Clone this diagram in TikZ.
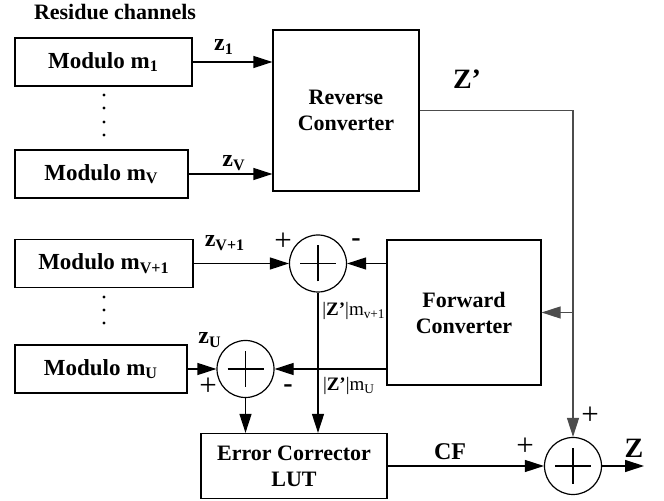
\documentclass[tikz,border=0pt]{standalone}
\usepackage{fontspec}
\setmainfont{Liberation Serif}
\usetikzlibrary{arrows.meta}
\usetikzlibrary{calc,positioning}

\tikzset{
  block/.style={draw, minimum height=24pt, inner sep=2pt, align=center,
    font=\fontsize{11}{13}\selectfont\bfseries},
  modbox/.style={block, font=\fontsize{11.5}{14}\selectfont\bfseries},
  sumnode/.style={draw, circle, minimum size=28.5pt, inner sep=0pt,
    path picture={
      \draw ([xshift=-9pt]path picture bounding box.center) -- ([xshift=9pt]path picture bounding box.center);
      \draw ([yshift=-9pt]path picture bounding box.center) -- ([yshift=9pt]path picture bounding box.center);
    }},
  sig/.style={font=\fontsize{12}{14}\selectfont\bfseries, inner sep=0pt},
  plus/.style={font=\fontsize{15.5}{16}\selectfont, inner sep=0pt},
  minus/.style={font=\fontsize{14}{14}\selectfont\bfseries, inner sep=0pt},
  modlab/.style={font=\fontsize{9.5}{11}\selectfont, inner sep=0pt},
}

\begin{document}
\begin{tikzpicture}[x=0.5pt, y=-0.5pt, >={Triangle[length=9.5pt, width=6pt]}, line width=0.6pt]
    \useasboundingbox (0,0) rectangle (664,501);

    \node[font=\fontsize{11}{13}\selectfont\bfseries] (title) at (115,12) {Residue channels};

    % residue channel blocks
    \node[modbox, minimum width=88.5pt] (m1) at (103.5,62) {Modulo m\textsubscript{1}};
    \node[modbox, minimum width=86.5pt] (mV) at (101.5,174) {Modulo m\textsubscript{V}};
    \node[modbox, minimum width=89pt] (mV1) at (104,263.5) {Modulo m\textsubscript{V+1}};
    \node[modbox, minimum width=86pt] (mU) at (101,369) {Modulo m\textsubscript{U}};

    \foreach \y in {95,108,122,135,297,310,323}
        \fill (104,\y) circle (0.8pt);

    % converters
    \node[block, minimum width=73pt, minimum height=80.5pt] (rev) at (346,110.5) {Reverse\\Converter};
    \node[block, minimum width=77pt, minimum height=72.5pt] (fwd) at (464,312.5) {Forward\\Converter};
    \node[block, minimum width=93pt, minimum height=32.5pt] (err) at (294,466) {Error Corrector\\LUT};

    \node[sumnode] (s1) at (318,263.5) {};
    \node[sumnode] (s2) at (245.5,369) {};
    \node[sumnode] (s3) at (573,466) {};

    \coordinate (zout) at (644,466);

    % connectors
    \draw[->] (m1.east) -- (m1.east -| rev.west);
    \draw[->] (mV.east) -- (mV.east -| rev.west);
    \draw[->, draw=black!70] (rev.east) -- (rev.east -| s3) coordinate (zc) -- (s3.north);
    \draw[->, draw=black!70] (fwd.east -| s3) coordinate (zt) -- (fwd.east);
    \draw[->] (mV1.east) -- (s1.west);
    \draw[->] (fwd.west |- s1) -- (s1.east);
    \draw[->] (mU.east) -- (s2.west);
    \draw[->] (fwd.west |- s2) -- (s2.east);
    \draw[->] (s2.south) -- (s2.south |- err.north);
    \draw[->] (s1.south) -- (s1.south |- err.north);
    \draw[->] (err.east) -- (s3.west);
    \draw[->] (s3.east) -- (zout);

    % labels
    \node[sig] (lz1) at (224,47) {z\textsubscript{1}};
    \node[sig] (lzV) at (234,163) {z\textsubscript{V}};
    \node[sig] (lzV1) at (225,243) {z\textsubscript{V+1}};
    \node[sig] (lzU) at (210,340) {z\textsubscript{U}};
    \node[sig, font=\fontsize{14}{16}\selectfont\bfseries] (lzp) at (467,79) {Z’};
    \node[sig, font=\fontsize{14}{16}\selectfont\bfseries] (lz) at (634,448) {Z};
    \node[sig] (lcf) at (450,452) {CF};

    \node[plus] (p1) at (283,242) {+};
    \node[minus] (n1) at (356,243) {-};
    \node[plus] (p2) at (208,387) {+};
    \node[minus] (n2) at (288,389) {-};
    \node[plus] (p3) at (525,447) {+};
    \node[plus] (p4) at (590,416) {+};

    \node[modlab] (lr1) at (354,311) {|\textbf{Z’}|m\textsubscript{v+1}};
    \node[modlab] (lr2) at (349,386) {|\textbf{Z’}|m\textsubscript{U}};

\end{tikzpicture}
\end{document}
